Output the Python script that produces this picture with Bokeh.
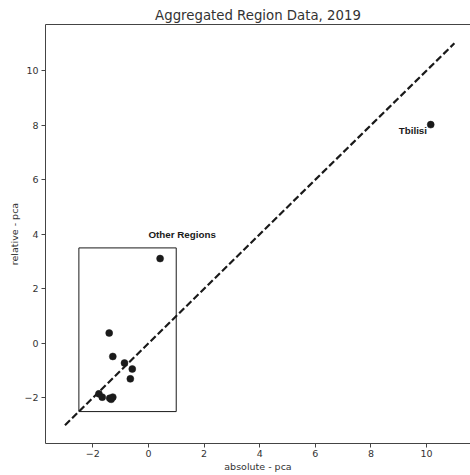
from bokeh.plotting import figure
from bokeh.models import Range1d, LinearAxis, FixedTicker
from bokeh.embed import file_html
from bokeh.resources import INLINE
from bokeh.core.properties import value

# data
region_x = [10.15, 0.42, -1.41, -1.28, -0.86, -0.58, -0.65, -1.78, -1.66, -1.39, -1.28, -1.34]
region_y = [8.02, 3.11, 0.38, -0.48, -0.72, -0.94, -1.30, -1.85, -1.97, -2.01, -1.97, -2.05]
diag_x = [-3, 11]
diag_y = [-3, 11]
box_left = [-2.5]
box_right = [1.0]
box_bottom = [-2.5]
box_top = [3.5]
label_text = ["Tbilisi", "Other Regions"]
label_x = [9.0, 0.0]
label_y = [7.8, 4.0]
x_ticks = [-2, 0, 2, 4, 6, 8, 10]
y_ticks = [-2, 0, 2, 4, 6, 8, 10]

FONT = "DejaVu Sans"
TXT = "#333333"

p = figure(width=470, height=475,
           x_range=Range1d(-3.7, 11.58), y_range=Range1d(-3.67, 11.69),
           output_backend="svg", toolbar_location=None,
           title="Aggregated Region Data, 2019",
           min_border_left=45, min_border_right=0, min_border_bottom=32, min_border_top=24)

p.title.align = "center"
p.title.text_font = FONT
p.title.text_font_size = "13.3px"
p.title.text_font_style = "normal"
p.title.text_color = TXT
p.title.standoff = 4

p.outline_line_color = None
p.grid.visible = False
p.background_fill_color = "white"
p.border_fill_color = "white"

for ax in (p.xaxis[0], p.yaxis[0]):
    ax.major_label_text_font = FONT
    ax.major_label_text_font_size = "9.5px"
    ax.major_label_text_color = TXT
    ax.axis_label_text_font = FONT
    ax.axis_label_text_font_size = "9.5px"
    ax.axis_label_text_font_style = "normal"
    ax.axis_label_text_color = TXT
    ax.axis_line_color = "#444444"
    ax.major_tick_line_color = "#444444"
    ax.major_tick_out = 4
    ax.major_tick_in = 0
    ax.minor_tick_line_color = None

p.xaxis[0].ticker = FixedTicker(ticks=x_ticks)
p.yaxis[0].ticker = FixedTicker(ticks=y_ticks)
p.xaxis[0].axis_label = "absolute - pca"
p.yaxis[0].axis_label = "relative - pca"
p.xaxis[0].major_label_standoff = 2
p.xaxis[0].axis_label_standoff = 1
p.yaxis[0].major_label_standoff = 3
p.yaxis[0].axis_label_standoff = 1

top = LinearAxis(axis_line_color="#444444", major_tick_line_color=None,
                 minor_tick_line_color=None, major_label_text_font_size="0px",
                 major_label_standoff=0)
top.ticker = FixedTicker(ticks=[])
p.add_layout(top, "above")

p.line(diag_x, diag_y, line_color="#1a1a1a", line_width=2.2, line_dash="7 3")
p.quad(left=box_left, right=box_right, bottom=box_bottom, top=box_top,
       fill_color=None, line_color="#1a1a1a", line_width=1)
p.scatter(region_x, region_y, size=7, fill_color="#1a1a1a", line_color="#1a1a1a", line_width=0.5)
p.text(x=label_x, y=label_y, text=label_text, text_font=value("Liberation Sans"),
       text_font_style="bold", text_font_size="9.8px", text_color="#1a1a1a",
       text_baseline="alphabetic", text_align="left")

open("out.html", "w").write(file_html(p, INLINE))
